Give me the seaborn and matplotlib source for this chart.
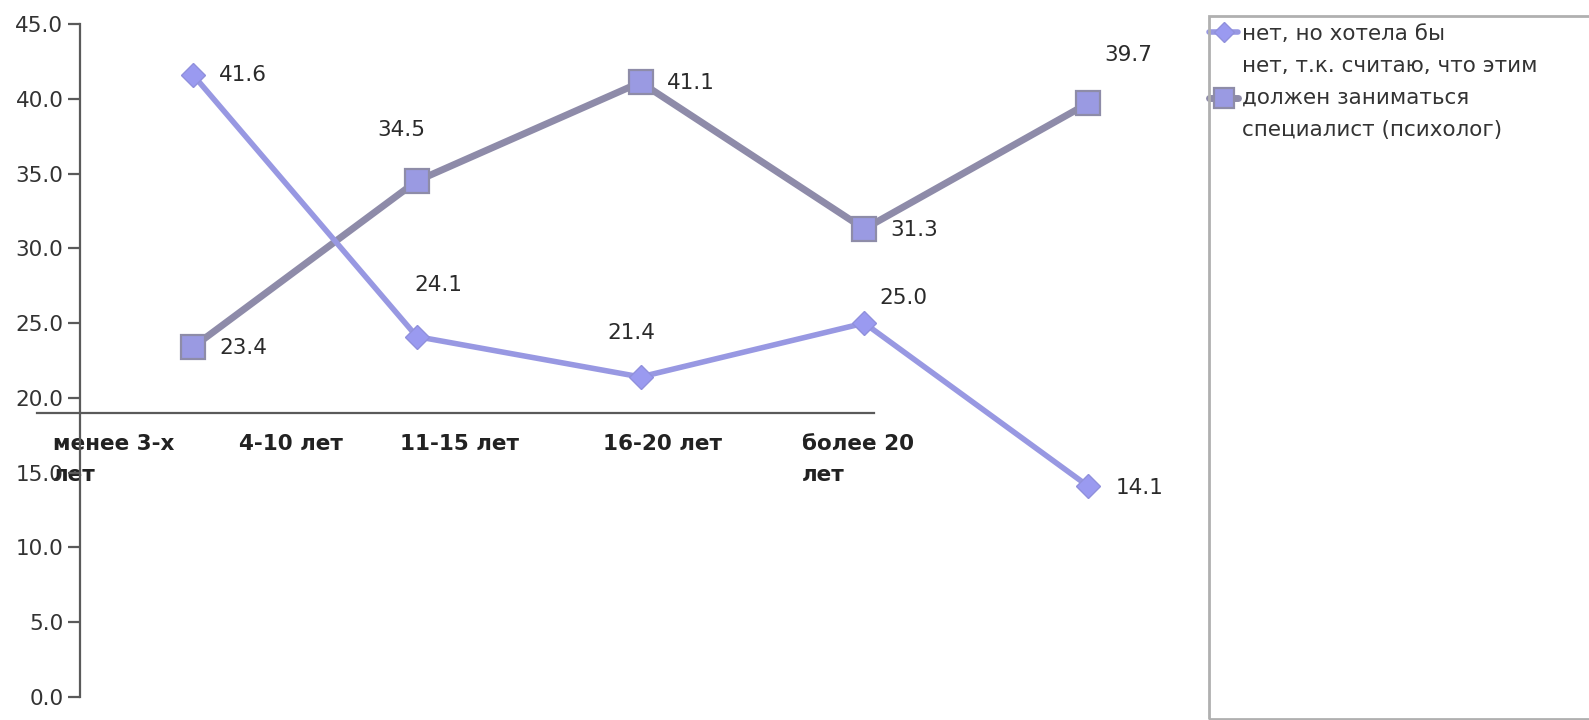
import numpy as np
import pandas as pd
import matplotlib
matplotlib.use("Agg")
import matplotlib.pyplot as plt
from matplotlib.patches import Rectangle
import seaborn as sns

# данные
categories = ["менее 3-х\nлет", "4-10 лет", "11-15 лет", "16-20 лет", "более 20\nлет"]
series_names = ["нет, но хотела бы",
                "нет, т.к. считаю, что этим\nдолжен заниматься\nспециалист (психолог)"]
want_values = [41.6, 24.1, 21.4, 25.0, 14.1]
psych_values = [23.4, 34.5, 41.1, 31.3, 39.7]

# смещения подписей значений (пиксели)
want_offsets = [(50, 0), (22, 52), (-9, 44), (39, 25), (52, -2)]
psych_offsets = [(50, -1), (-15, 51), (50, -1), (50, -1), (40, 48)]

W, H = 1589, 720
sns.set_theme(style="white")
plt.rcParams['font.family'] = ['DejaVu Sans']

fig = plt.figure(figsize=(W / 100, H / 100), dpi=100)
ax = fig.add_axes([80 / W, (H - 697) / H, (1200 - 80) / W, (697 - 24) / H])

df = pd.DataFrame({
    "idx": list(range(len(categories))) * 2,
    "value": want_values + psych_values,
    "series": [series_names[0]] * 5 + [series_names[1]] * 5,
})

styles = {
    series_names[1]: dict(color="#8e8ba9", marker="s", markersize=17.5,
                          markerfacecolor="#9a9ae2", markeredgecolor="#8e8ca8",
                          markeredgewidth=1.6, linewidth=5),
    series_names[0]: dict(color="#9898e2", marker="D", markersize=12.5,
                          markerfacecolor="#9a9af0", markeredgecolor="#9090dc",
                          markeredgewidth=1.0, linewidth=4),
}
for name in [series_names[1], series_names[0]]:
    sub = df[df["series"] == name]
    sns.lineplot(data=sub, x="idx", y="value", ax=ax, label=name, **styles[name])

# подписи значений
for vals, offs in [(want_values, want_offsets), (psych_values, psych_offsets)]:
    for i, (v, o) in enumerate(zip(vals, offs)):
        ax.annotate(f"{v:.1f}", (i, v), xytext=o, textcoords="offset pixels",
                    ha="center", va="center", fontsize=15.5, color="#2a2a2a")

ax.set_xlim(-0.505, 4.5)
ax.set_ylim(0, 45)
ax.set_yticks(np.arange(0, 46, 5))
ax.set_yticklabels([f"{t:.1f}" for t in np.arange(0, 46, 5)])
ax.set_xticks([])
ax.set_xlabel("")
ax.set_ylabel("")
for s in ["top", "right", "bottom"]:
    ax.spines[s].set_visible(False)
ax.spines["left"].set_color("#5a5a5a")
ax.spines["left"].set_linewidth(1.6)
ax.tick_params(axis="y", left=True, length=9, width=1.6, color="#5a5a5a",
               pad=3, labelsize=15.5, labelcolor="#333333")
ax.patch.set_alpha(0)

# ось категорий (линия на уровне 19)
axc = fig.add_axes([37 / W, (H - 697) / H, (874 - 37) / W, (697 - 24) / H])
axc.set_ylim(0, 45)
axc.set_xlim(0, 837)
axc.patch.set_alpha(0)
for s in ["top", "right", "left"]:
    axc.spines[s].set_visible(False)
axc.spines["bottom"].set_position(("data", 19.0))
axc.spines["bottom"].set_color("#5a5a5a")
axc.spines["bottom"].set_linewidth(1.6)
axc.set_yticks([])
axc.set_xticks([16, 202, 363, 566, 765])
axc.set_xticklabels(categories, ha="left", fontsize=15.5, fontweight="bold",
                    color="#222222", linespacing=1.7)
axc.tick_params(axis="x", bottom=True, length=0, pad=15)
axc.set_zorder(-1)

# легенда
handles, labels = ax.get_legend_handles_labels()
order = [labels.index(n) for n in series_names]
leg = ax.legend([handles[i] for i in order], [labels[i] for i in order],
                loc="upper left", bbox_to_anchor=(1209 / W, 1 - 24 / H),
                bbox_transform=fig.transFigure, frameon=False, fontsize=15.5,
                borderpad=0, borderaxespad=0, handlelength=1.35,
                handletextpad=0.2, labelspacing=0.55, markerscale=0.8)
for t in leg.get_texts():
    t.set_color("#333333")
    t.set_linespacing(1.75)
fig.patches.append(Rectangle((1209 / W, 1 / H), (W - 1209 + 10) / W, (H - 17) / H,
                             transform=fig.transFigure, fill=False,
                             edgecolor="#b0b0b0", linewidth=2))

fig.savefig("out.png", dpi=100, facecolor="white")
